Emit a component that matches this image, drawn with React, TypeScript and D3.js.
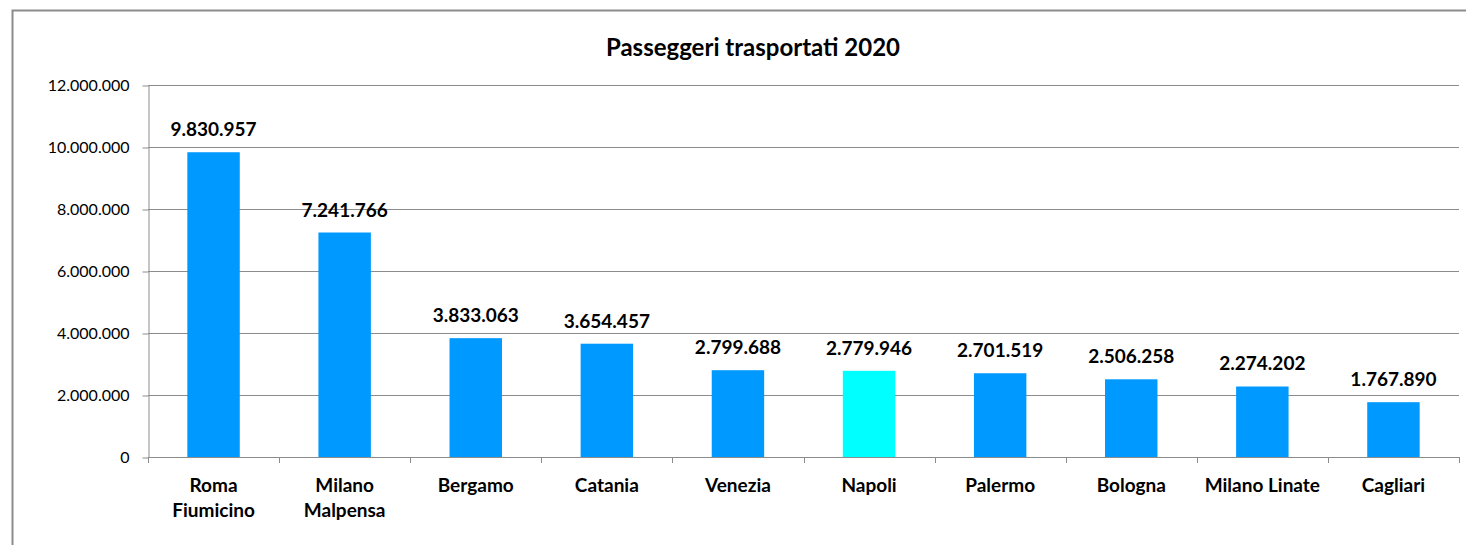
import { useEffect, useRef } from 'react';
import * as d3 from 'd3';

const airports = [
  ['Roma', 'Fiumicino'],
  ['Milano', 'Malpensa'],
  ['Bergamo'],
  ['Catania'],
  ['Venezia'],
  ['Napoli'],
  ['Palermo'],
  ['Bologna'],
  ['Milano Linate'],
  ['Cagliari'],
];
const passengers = [9830957, 7241766, 3833063, 3654457, 2799688, 2779946, 2701519, 2506258, 2274202, 1767890];
const highlighted = ['Napoli'];
const yTicks = [0, 2000000, 4000000, 6000000, 8000000, 10000000, 12000000];

const W = 1466;
const H = 545;
const FONT = 'Lato, "Open Sans", sans-serif';

const fmt = (v: number) => d3.format(',')(v).replace(/,/g, '.');

export default function App() {
  const svgRef = useRef<SVGSVGElement>(null);

  useEffect(() => {
    if (!svgRef.current) return;
    const svg = d3.select(svgRef.current);
    svg.selectAll('*').remove();

    const m = { top: 85, right: 7, bottom: 88, left: 148 };
    const names = airports.map(a => a.join(' '));

    const x = d3.scaleBand<string>()
      .domain(names)
      .range([m.left, W - m.right])
      .paddingInner(0.6)
      .paddingOuter(0.3);
    const y = d3.scaleLinear().domain([0, 12000000]).range([H - m.bottom, m.top]);

    // bordo esterno
    svg.append('rect')
      .attr('x', 12.5).attr('y', 10.5)
      .attr('width', W).attr('height', H)
      .attr('fill', 'none')
      .attr('stroke', '#8c8c8c')
      .attr('stroke-width', 2);

    svg.append('text')
      .attr('x', 753)
      .attr('y', 56)
      .attr('text-anchor', 'middle')
      .attr('font-family', FONT)
      .attr('font-weight', 700)
      .attr('font-size', 24)
      .attr('fill', '#000')
      .text('Passeggeri trasportati 2020');

    // griglia
    svg.append('g')
      .selectAll('line')
      .data(yTicks.filter(t => t > 0))
      .join('line')
      .attr('x1', m.left).attr('x2', W - m.right)
      .attr('y1', d => Math.round(y(d)) + 0.5).attr('y2', d => Math.round(y(d)) + 0.5)
      .attr('stroke', '#8c8c8c')
      .attr('stroke-width', 1);

    // asse Y
    const yAxis = svg.append('g')
      .attr('transform', `translate(${m.left + 0.5},0.5)`)
      .call(d3.axisLeft(y).tickValues(yTicks).tickSize(6).tickSizeOuter(0).tickFormat(d => fmt(d as number)));
    yAxis.selectAll('path, line').attr('stroke', '#8c8c8c');
    yAxis.selectAll('text')
      .attr('font-family', FONT)
      .attr('font-size', 16)
      .attr('fill', '#000')
      .attr('x', -19);

    // barre
    svg.append('g')
      .selectAll('rect')
      .data(passengers)
      .join('rect')
      .attr('x', (_, i) => x(names[i])!)
      .attr('y', d => y(d))
      .attr('width', x.bandwidth())
      .attr('height', d => y(0) - y(d))
      .attr('fill', (_, i) => highlighted.includes(names[i]) ? '#00FFFF' : '#0099FF');

    // etichette valori
    svg.append('g')
      .selectAll('text')
      .data(passengers)
      .join('text')
      .attr('x', (_, i) => x(names[i])! + x.bandwidth() / 2)
      .attr('y', d => y(d) - 16)
      .attr('text-anchor', 'middle')
      .attr('font-family', FONT)
      .attr('font-weight', 700)
      .attr('font-size', 19)
      .attr('fill', '#000')
      .text(d => fmt(d));

    // asse X
    const bounds = d3.range(names.length + 1).map(i => m.left + i * (W - m.right - m.left) / names.length);
    svg.append('line')
      .attr('x1', m.left).attr('x2', W - m.right)
      .attr('y1', y(0) + 0.5).attr('y2', y(0) + 0.5)
      .attr('stroke', '#8c8c8c');
    svg.append('g')
      .selectAll('line')
      .data(bounds)
      .join('line')
      .attr('x1', d => Math.round(d) + 0.5).attr('x2', d => Math.round(d) + 0.5)
      .attr('y1', y(0)).attr('y2', y(0) + 6)
      .attr('stroke', '#8c8c8c');

    const labels = svg.append('g')
      .selectAll('text')
      .data(airports)
      .join('text')
      .attr('text-anchor', 'middle')
      .attr('font-family', FONT)
      .attr('font-weight', 700)
      .attr('font-size', 19)
      .attr('fill', '#000');
    labels.each(function (lines, i) {
      const cx = x(names[i])! + x.bandwidth() / 2;
      d3.select(this)
        .selectAll('tspan')
        .data(lines)
        .join('tspan')
        .attr('x', cx)
        .attr('y', (_, j) => 492 + j * 25)
        .text(d => d);
    });
  }, []);

  return <svg ref={svgRef} width={W} height={H} style={{ position: 'absolute', left: 0, top: 0 }} />;
}
